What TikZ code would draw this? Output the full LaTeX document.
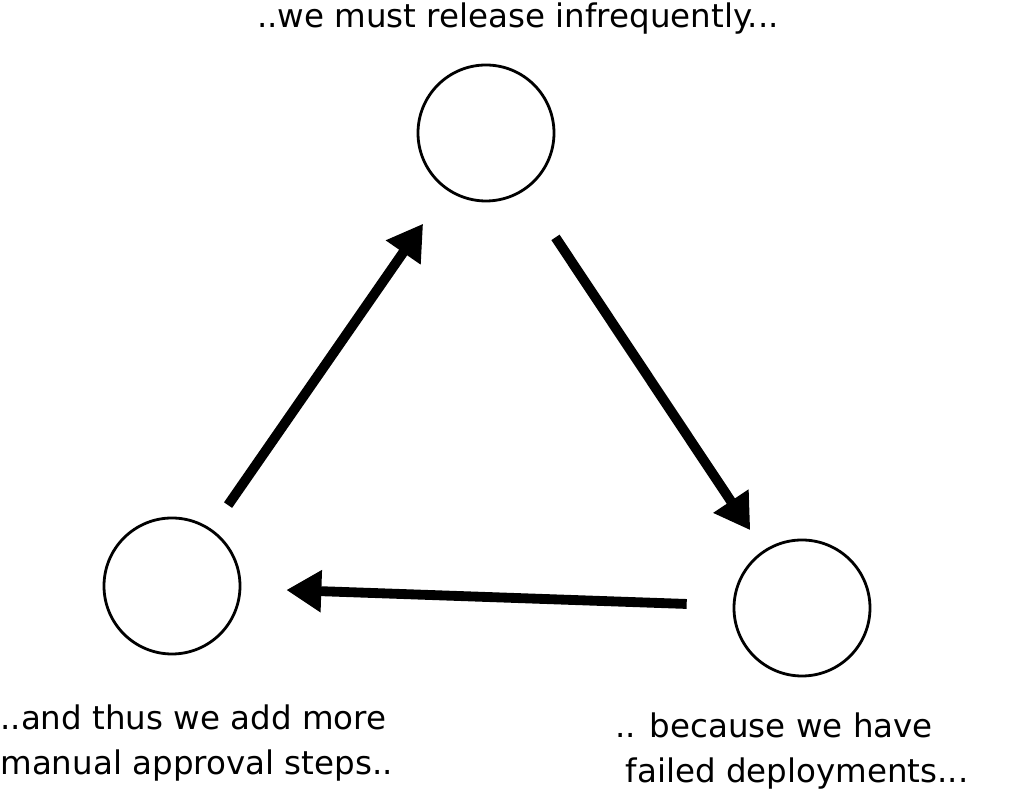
\documentclass[tikz,border=0pt]{standalone}
\usepackage{fontspec}
\setmainfont{DejaVu Sans}
\usetikzlibrary{arrows.meta}
\tikzset{
	stage/.style={circle, draw, line width=1.6pt, minimum size=2.72cm, inner sep=0pt},
	flow/.style={line width=5.6pt, -{Triangle[length=0.7cm, width=0.8cm]}},
	caption/.style={font=\fontsize{18.5}{25.6}\selectfont, align=left, inner sep=0pt}
}
\begin{document}
\begin{tikzpicture}
		\useasboundingbox (0, 0) rectangle (20.48, 15.94);
		
		\node[stage] (release) at (9.72, 13.28) {};
		\node[stage] (approval) at (3.44, 4.22) {};
		\node[stage] (failure) at (16.04, 3.78) {};
		
		\node[caption, anchor=center] (releasetext) at (10.36, 15.56) {..we must release infrequently...};
		\node[caption, anchor=north west] (approvaltext) at (0, 1.86) {..and thus we add more\\manual approval steps..};
		\node[caption, anchor=north west] (failuretext) at (12.3, 1.7) {.. because we have\\\ failed deployments...};
		
		\draw[flow, shorten <=0.58cm, shorten >=0.82cm] (approval) -- (release);
		\draw[flow, shorten <=1.12cm, shorten >=0.48cm] (release) -- (failure);
		\draw[flow, shorten <=0.92cm, shorten >=0.9cm] (failure) -- (approval);
	\end{tikzpicture}
\end{document}
